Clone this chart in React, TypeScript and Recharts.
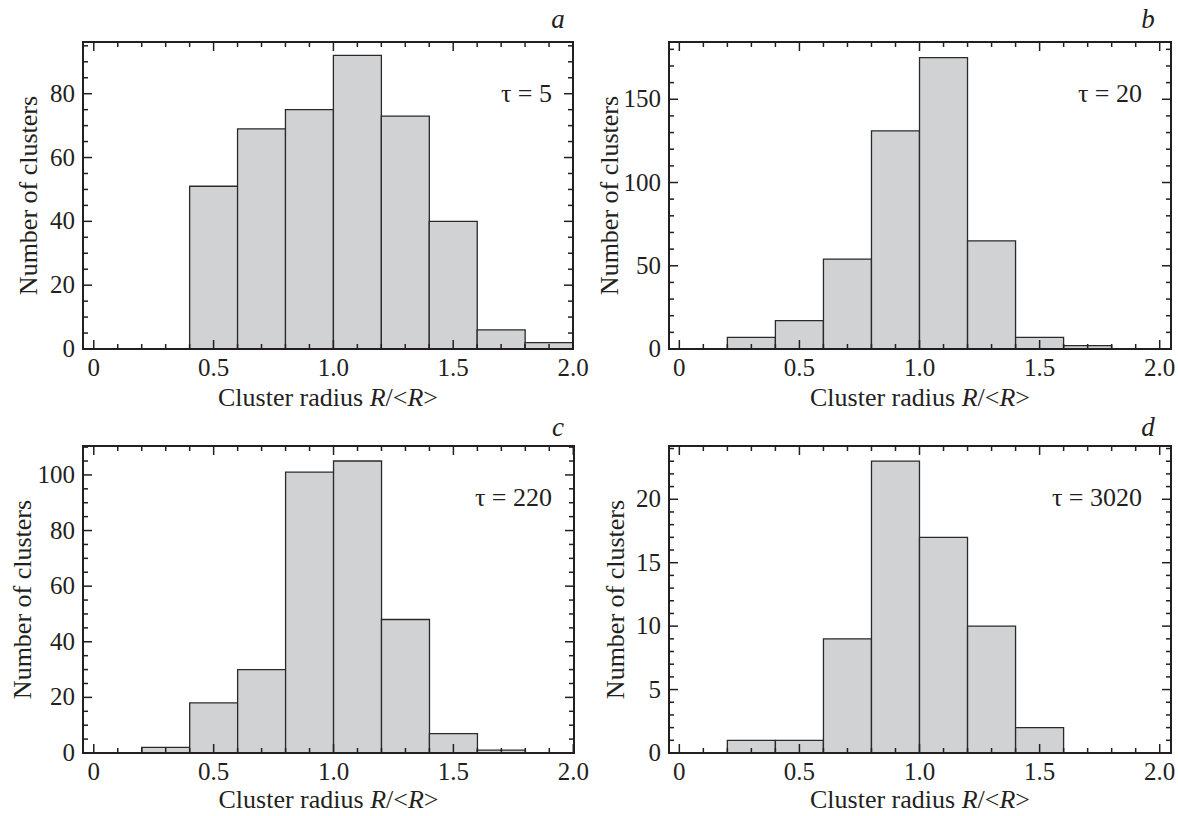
import React from "react"
import { BarChart, Bar, XAxis, YAxis } from "recharts"

// histogram bins of width 0.2 on R/<R>, given by their centres
const binCenters = [0.1, 0.3, 0.5, 0.7, 0.9, 1.1, 1.3, 1.5, 1.7, 1.9]

// cluster counts per bin
const countsTau5 = [0, 0, 51, 69, 75, 92, 73, 40, 6, 2]
const countsTau20 = [0, 7, 17, 54, 131, 175, 65, 7, 2, 0]
const countsTau220 = [0, 2, 18, 30, 101, 105, 48, 7, 1, 0]
const countsTau3020 = [0, 1, 1, 9, 23, 17, 10, 2, 0, 0]

// axis ticks
const xTicks = [0, 0.1, 0.2, 0.3, 0.4, 0.5, 0.6, 0.7, 0.8, 0.9, 1.0, 1.1, 1.2, 1.3, 1.4, 1.5, 1.6, 1.7, 1.8, 1.9, 2.0]
const xMajor = [0, 0.5, 1.0, 1.5, 2.0]
const yMajorA = [0, 20, 40, 60, 80]
const yMajorB = [0, 50, 100, 150]
const yMajorC = [0, 20, 40, 60, 80, 100]
const yMajorD = [0, 5, 10, 15, 20]

const INK = "#231f20"
const FONT = "'Liberation Serif', 'Times New Roman', Times, serif"

const isMajor = (v: number, majors: number[]) => majors.some(m => Math.abs(m - v) < 1e-6)
const fmtX = (v: number) => (v === 0 ? "0" : v.toFixed(1))

function minorTicks(step: number, max: number) {
    const out: number[] = []
    for (let i = 0; i * step <= max + 1e-9; i++) out.push(Math.round(i * step * 1000) / 1000)
    return out
}

function BottomTick(props: any) {
    const { x, y, payload } = props
    const major = isMajor(payload.value, xMajor)
    return (
        <g>
            <line x1={x} y1={y} x2={x} y2={y - (major ? 9 : 5)} stroke={INK} strokeWidth={1.5} />
            {major && (
                <text x={x} y={y + 27} textAnchor="middle" fontFamily={FONT} fontSize={25} fill={INK}>
                    {fmtX(payload.value)}
                </text>
            )}
        </g>
    )
}

function TopTick(props: any) {
    const { x, y, payload } = props
    const major = isMajor(payload.value, xMajor)
    return <line x1={x} y1={y} x2={x} y2={y + (major ? 9 : 5)} stroke={INK} strokeWidth={1.5} />
}

function LeftTick(props: any) {
    const { x, y, payload, majors } = props
    const major = isMajor(payload.value, majors)
    return (
        <g>
            <line x1={x} y1={y} x2={x + (major ? 9 : 5)} y2={y} stroke={INK} strokeWidth={1.5} />
            {major && (
                <text x={x - 8} y={y + 8} textAnchor="end" fontFamily={FONT} fontSize={25} fill={INK}>
                    {payload.value}
                </text>
            )}
        </g>
    )
}

function RightTick(props: any) {
    const { x, y, payload, majors } = props
    const major = isMajor(payload.value, majors)
    return <line x1={x} y1={y} x2={x - (major ? 9 : 5)} y2={y} stroke={INK} strokeWidth={1.5} />
}

type Plot = { l: number; r: number; t: number; b: number }

interface PanelProps {
    counts: number[]
    xDomain: [number, number]
    yMax: number
    yMajor: number[]
    yStep: number
    width: number
    height: number
    plot: Plot
}

function Panel({ counts, xDomain, yMax, yMajor, yStep, width, height, plot }: PanelProps) {
    const data = binCenters.map((x, i) => ({ x, count: counts[i] }))
    const yTicks = minorTicks(yStep, yMax)
    const axisLine = { stroke: INK, strokeWidth: 2, strokeLinecap: "square" as const }

    return (
        <BarChart width={width} height={height} data={data} margin={{ top: 0, right: 0, bottom: 0, left: 0 }} barCategoryGap={0} barGap={0}>
            <XAxis
                xAxisId="bottom"
                type="number"
                dataKey="x"
                domain={xDomain}
                allowDataOverflow
                ticks={xTicks}
                interval={0}
                tickSize={0}
                tickMargin={0}
                tickLine={false}
                axisLine={axisLine}
                height={height - plot.b}
                tick={(p: any) => <BottomTick {...p} />}
            />
            <XAxis
                xAxisId="top"
                orientation="top"
                type="number"
                dataKey="x"
                domain={xDomain}
                allowDataOverflow
                ticks={xTicks}
                interval={0}
                tickSize={0}
                tickMargin={0}
                tickLine={false}
                axisLine={axisLine}
                height={plot.t}
                tick={(p: any) => <TopTick {...p} />}
            />
            <YAxis
                yAxisId="left"
                type="number"
                domain={[0, yMax]}
                allowDataOverflow
                ticks={yTicks}
                interval={0}
                tickSize={0}
                tickMargin={0}
                tickLine={false}
                axisLine={axisLine}
                width={plot.l}
                tick={(p: any) => <LeftTick {...p} majors={yMajor} />}
            />
            <YAxis
                yAxisId="right"
                orientation="right"
                type="number"
                domain={[0, yMax]}
                allowDataOverflow
                ticks={yTicks}
                interval={0}
                tickSize={0}
                tickMargin={0}
                tickLine={false}
                axisLine={axisLine}
                width={width - plot.r}
                tick={(p: any) => <RightTick {...p} majors={yMajor} />}
            />
            <Bar
                xAxisId="bottom"
                yAxisId="left"
                dataKey="count"
                fill="#d1d2d4"
                stroke="#2a2a2a"
                strokeWidth={1.3}
                isAnimationActive={false}
            />
        </BarChart>
    )
}

const panels = [
    { key: "a", tau: "5", ox: 0, oy: 0, w: 590, counts: countsTau5, xDomain: [-0.045, 2.0] as [number, number], yMax: 96.2, yMajor: yMajorA, yStep: 5, plot: { l: 83, r: 573, t: 42, b: 349 }, titleX: 28, titleDy: 57 },
    { key: "b", tau: "20", ox: 590, oy: 0, w: 588, counts: countsTau20, xDomain: [-0.043, 2.047] as [number, number], yMax: 184.4, yMajor: yMajorB, yStep: 10, plot: { l: 79, r: 581, t: 42, b: 349 }, titleX: 19, titleDy: 57 },
    { key: "c", tau: "220", ox: 0, oy: 408, w: 590, counts: countsTau220, xDomain: [-0.045, 2.003] as [number, number], yMax: 110.4, yMajor: yMajorC, yStep: 5, plot: { l: 83, r: 574, t: 38, b: 345 }, titleX: 22, titleDy: 55 },
    { key: "d", tau: "3020", ox: 590, oy: 408, w: 588, counts: countsTau3020, xDomain: [-0.043, 2.047] as [number, number], yMax: 24.2, yMajor: yMajorD, yStep: 1, plot: { l: 79, r: 581, t: 38, b: 345 }, titleX: 25, titleDy: 55 },
]

export default function App() {
    return (
        <div style={{ position: "absolute", left: 0, top: 0, width: 1178, height: 816, background: "#fff" }}>
            {panels.map(p => (
                <div key={p.key} style={{ position: "absolute", left: p.ox, top: p.oy }}>
                    <Panel
                        counts={p.counts}
                        xDomain={p.xDomain}
                        yMax={p.yMax}
                        yMajor={p.yMajor}
                        yStep={p.yStep}
                        width={p.w}
                        height={408}
                        plot={p.plot}
                    />
                </div>
            ))}
            <svg width={1178} height={816} style={{ position: "absolute", left: 0, top: 0, pointerEvents: "none" }}>
                {panels.map(p => {
                    const cx = p.ox + (p.plot.l + p.plot.r) / 2
                    const cy = p.oy + (p.plot.t + p.plot.b) / 2
                    const tx = p.ox + p.titleX
                    return (
                        <g key={p.key} fontFamily={FONT} fill={INK}>
                            <text x={p.ox + 558} y={p.oy + 28} fontSize={27} fontStyle="italic" textAnchor="middle">{p.key}</text>
                            <text x={p.ox + 552} y={p.oy + p.plot.t + 60} fontSize={26} textAnchor="end">τ = {p.tau}</text>
                            <text x={cx} y={p.oy + p.plot.b + p.titleDy} fontSize={26} textAnchor="middle">
                                Cluster radius <tspan fontStyle="italic">R</tspan>{"/<"}<tspan fontStyle="italic">R</tspan>{">"}
                            </text>
                            <text x={tx} y={cy} fontSize={26} textAnchor="middle" dominantBaseline="central" transform={`rotate(-90, ${tx}, ${cy})`}>
                                Number of clusters
                            </text>
                        </g>
                    )
                })}
            </svg>
        </div>
    )
}
